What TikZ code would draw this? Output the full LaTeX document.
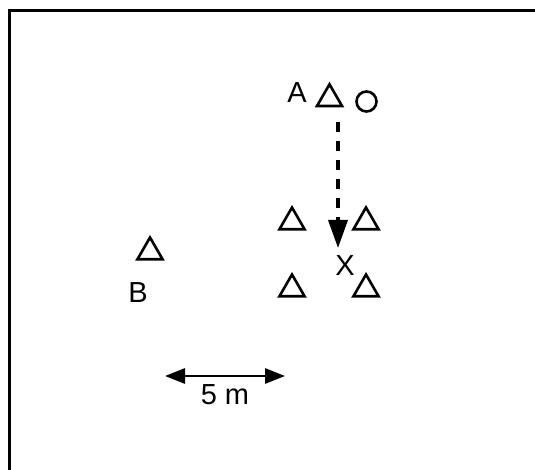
\documentclass[tikz,border=0pt]{standalone}
\usepackage{fontspec}
\setmainfont{Liberation Sans}
\usetikzlibrary{shapes.geometric,arrows.meta}

\newcommand{\frameLineWidth}{2.8}
\newcommand{\markLineWidth}{2.6}
\newcommand{\arrowLineWidth}{2.8}
\newcommand{\runLineWidth}{3.6}
\newcommand{\coneSize}{29}
\newcommand{\ballSize}{20}
\newcommand{\runX}{338}
\newcommand{\runTopY}{122}
\newcommand{\runTipY}{248}
\newcommand{\scaleY}{376}

\tikzset{
  cone/.style={draw, regular polygon, regular polygon sides=3, minimum size=\coneSize pt, inner sep=0pt, line width=\markLineWidth pt},
  ball/.style={draw, circle, minimum size=\ballSize pt, inner sep=0pt, line width=\markLineWidth pt},
  letter/.style={inner sep=0pt, font=\fontsize{29}{32}\selectfont},
}

\begin{document}
\begin{tikzpicture}[x=1pt,y=-1pt]
        \useasboundingbox (0,0) rectangle (535,470);

        % Field border
        \draw [line width=\frameLineWidth pt, black] (9.5,470) -- (9.5,10.5) -- (535,10.5);

        % Start position
        \node[cone] (coneA) at (329.5,98.8) {};
        \node[ball] (ball) at (366.5,101.5) {};
        \node[letter] (labelA) at (297,93) {A};

        % Gate of four cones
        \node[cone] (gateNW) at (292,222) {};
        \node[cone] (gateNE) at (366,222) {};
        \node[cone] (gateSW) at (292,289) {};
        \node[cone] (gateSE) at (366,289) {};
        \node[letter] (labelX) at (345,266) {X};

        % Cone B
        \node[cone] (coneB) at (150,252) {};
        \node[letter] (labelB) at (138,293) {B};

        % Run from A to X
        \coordinate (runStart) at (\runX,\runTopY);
        \coordinate (runTip) at (\runX,\runTipY);
        \draw [line width=\runLineWidth pt, black, dash pattern=on 10.5pt off 8.5pt, -{Triangle[length=28pt,width=19pt]}] (runStart) -- (runTip);

        % Scale
        \coordinate (scaleLeft) at (165,\scaleY);
        \coordinate (scaleRight) at (285,\scaleY);
        \draw [line width=\arrowLineWidth pt, black, {Triangle[length=20pt,width=15pt]}-{Triangle[length=20pt,width=15pt]}] (scaleLeft) -- (scaleRight);
        \node[letter] (scaleText) at (225,395) {5 m};
\end{tikzpicture}
\end{document}
